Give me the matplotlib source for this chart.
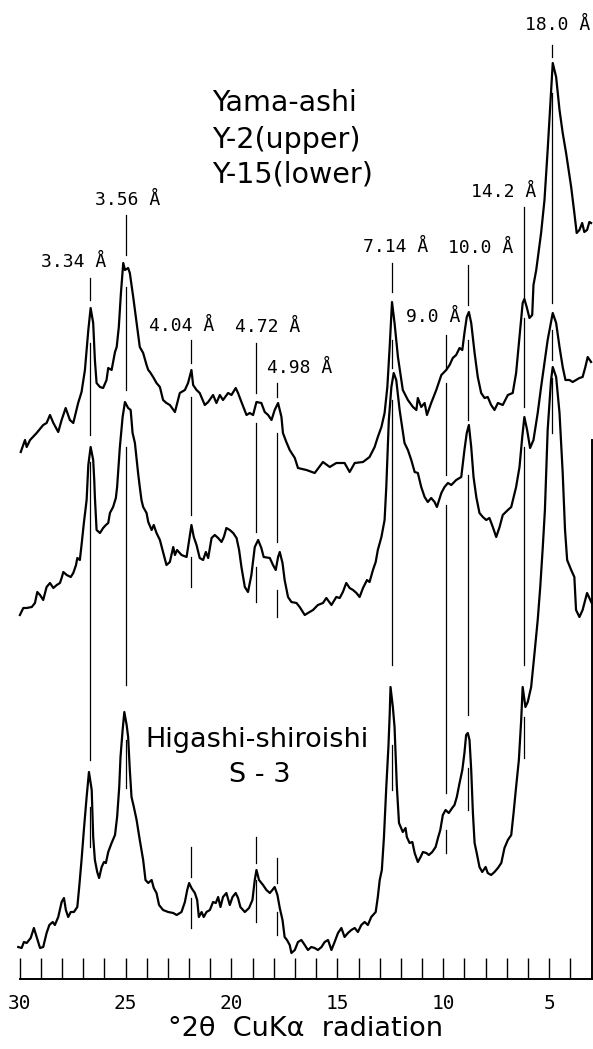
import matplotlib
matplotlib.use("Agg")
import matplotlib.pyplot as plt

# X-ray diffraction traces.
# 2theta in degrees (Cu K-alpha), intensity in arbitrary units (0 = chart baseline).

# Yama-ashi Y-2 (upper trace)
y2_2theta = [29.95, 29.75, 29.67, 29.51, 29.20, 28.89, 28.73, 28.57, 28.41, 28.18,
             28.02, 27.83, 27.63, 27.47, 27.24, 27.08, 26.92, 26.76, 26.65, 26.53,
             26.45, 26.37, 26.21, 26.06, 25.90, 25.82, 25.66, 25.50, 25.42, 25.32,
             25.22, 25.11, 25.03, 24.88, 24.80, 24.64, 24.48, 24.33, 24.17, 24.01,
             23.93, 23.85, 23.70, 23.54, 23.38, 23.23, 23.07, 22.91, 22.67, 22.44,
             22.20, 22.05, 21.89, 21.81, 21.65, 21.50, 21.26, 21.10, 20.87, 20.71,
             20.55, 20.40, 20.16, 20.00, 19.80, 19.69, 19.53, 19.29, 19.14, 18.98,
             18.82, 18.59, 18.43, 18.27, 18.11, 17.96, 17.80, 17.64, 17.57, 17.41,
             17.25, 17.01, 16.86, 16.46, 16.07, 15.68, 15.36, 15.05, 14.66, 14.42,
             14.18, 13.79, 13.48, 13.24, 13.09, 12.92, 12.77, 12.64, 12.53, 12.42,
             12.30, 12.14, 11.91, 11.67, 11.43, 11.27, 11.20, 11.04, 10.88, 10.77,
             10.57, 10.33, 10.09, 9.86, 9.70, 9.55, 9.39, 9.23, 9.10, 9.00,
             8.89, 8.79, 8.68, 8.52, 8.37, 8.21, 8.05, 7.90, 7.74, 7.58,
             7.42, 7.19, 6.95, 6.72, 6.56, 6.40, 6.25, 6.17, 6.06, 5.93,
             5.80, 5.74, 5.61, 5.38, 5.22, 5.07, 4.91, 4.83, 4.67, 4.51,
             4.36, 4.20, 3.96, 3.81, 3.70, 3.57, 3.44, 3.34, 3.21, 3.10,
             3.02]
y2_int = [527, 539, 532, 539, 546, 554, 556, 564, 556, 547,
          559, 571, 559, 556, 576, 587, 609, 649, 671, 656,
          619, 596, 592, 591, 599, 611, 609, 627, 632, 652,
          686, 716, 709, 711, 706, 682, 656, 632, 626, 614,
          609, 607, 602, 596, 592, 579, 576, 574, 567, 586,
          589, 596, 609, 594, 589, 586, 574, 577, 584, 576,
          584, 579, 586, 584, 591, 586, 577, 564, 566, 564,
          577, 576, 567, 564, 559, 569, 576, 562, 546, 537,
          529, 521, 511, 509, 506, 517, 512, 516, 516, 507,
          516, 517, 522, 532, 542, 552, 566, 592, 632, 677,
          656, 622, 589, 579, 572, 569, 581, 572, 576, 564,
          576, 589, 604, 609, 614, 621, 624, 631, 629, 646,
          662, 667, 656, 626, 602, 586, 581, 582, 574, 569,
          576, 574, 584, 586, 606, 642, 676, 680, 672, 661,
          664, 694, 709, 746, 779, 829, 886, 916, 902, 869,
          846, 826, 792, 766, 746, 749, 756, 747, 749, 757,
          756]

# Yama-ashi Y-15 (lower trace)
y15_2theta = [29.99, 29.83, 29.67, 29.43, 29.28, 29.17, 29.04, 28.89, 28.73, 28.57,
              28.41, 28.25, 28.10, 28.02, 27.94, 27.78, 27.59, 27.47, 27.34, 27.28,
              27.16, 27.08, 26.97, 26.84, 26.76, 26.65, 26.53, 26.48, 26.45, 26.37,
              26.21, 26.06, 25.93, 25.82, 25.74, 25.59, 25.46, 25.40, 25.27, 25.14,
              25.03, 24.88, 24.76, 24.67, 24.56, 24.41, 24.33, 24.25, 24.17, 24.01,
              23.93, 23.77, 23.67, 23.54, 23.38, 23.23, 23.07, 22.91, 22.75, 22.67,
              22.57, 22.36, 22.12, 22.00, 21.89, 21.78, 21.65, 21.50, 21.34, 21.21,
              21.10, 20.94, 20.79, 20.63, 20.47, 20.36, 20.24, 20.08, 19.92, 19.76,
              19.64, 19.53, 19.37, 19.22, 19.06, 18.90, 18.74, 18.59, 18.48, 18.19,
              18.04, 17.91, 17.80, 17.72, 17.59, 17.49, 17.33, 17.17, 16.93, 16.78,
              16.54, 16.39, 16.15, 15.92, 15.68, 15.52, 15.28, 15.05, 14.89, 14.74,
              14.58, 14.42, 14.26, 14.10, 13.95, 13.79, 13.60, 13.48, 13.32, 13.19,
              13.09, 12.92, 12.77, 12.69, 12.57, 12.45, 12.34, 12.22, 12.06, 11.83,
              11.67, 11.51, 11.35, 11.20, 11.04, 10.88, 10.73, 10.57, 10.41, 10.30,
              10.09, 9.94, 9.78, 9.62, 9.39, 9.15, 9.00, 8.89, 8.79, 8.68,
              8.57, 8.44, 8.29, 8.13, 7.97, 7.82, 7.66, 7.50, 7.34, 7.19,
              6.95, 6.79, 6.56, 6.40, 6.27, 6.17, 6.04, 5.90, 5.74, 5.54,
              5.38, 5.22, 5.07, 4.91, 4.83, 4.67, 4.51, 4.36, 4.23, 4.04,
              3.89, 3.73, 3.57, 3.42, 3.29, 3.18, 3.02]
y15_int = [364, 371, 371, 372, 376, 387, 384, 379, 392, 396,
           391, 394, 396, 401, 407, 404, 402, 406, 414, 421,
           419, 434, 456, 479, 514, 532, 519, 499, 482, 449,
           446, 451, 454, 456, 466, 472, 481, 492, 532, 562,
           577, 571, 569, 546, 536, 506, 492, 479, 472, 466,
           457, 449, 454, 446, 439, 427, 414, 417, 432, 424,
           429, 424, 422, 439, 454, 442, 434, 421, 419, 427,
           421, 441, 444, 441, 437, 442, 451, 449, 446, 441,
           429, 412, 392, 387, 404, 432, 439, 431, 422, 421,
           414, 409, 422, 427, 416, 399, 382, 377, 376, 372,
           364, 366, 369, 374, 376, 381, 374, 382, 381, 387,
           396, 391, 389, 386, 382, 391, 399, 397, 409, 417,
           429, 442, 459, 492, 559, 592, 606, 599, 569, 536,
           529, 519, 507, 506, 492, 482, 477, 481, 477, 472,
           486, 492, 496, 494, 499, 502, 529, 546, 554, 532,
           502, 482, 466, 462, 459, 461, 452, 442, 452, 464,
           469, 472, 492, 512, 542, 562, 549, 531, 539, 566,
           592, 616, 639, 657, 666, 656, 632, 612, 599, 599,
           597, 599, 601, 602, 612, 622, 617]

# Higashi-shiroishi S-3
s3_2theta = [30.07, 29.91, 29.80, 29.67, 29.48, 29.33, 29.20, 29.04, 28.89, 28.73,
             28.60, 28.44, 28.34, 28.18, 28.02, 27.91, 27.82, 27.71, 27.59, 27.44,
             27.28, 27.19, 27.08, 26.97, 26.84, 26.73, 26.60, 26.53, 26.45, 26.34,
             26.25, 26.13, 26.02, 25.93, 25.82, 25.66, 25.50, 25.40, 25.30, 25.24,
             25.14, 25.06, 24.95, 24.88, 24.80, 24.72, 24.61, 24.48, 24.33, 24.17,
             24.06, 23.93, 23.77, 23.67, 23.54, 23.42, 23.23, 22.99, 22.75, 22.59,
             22.36, 22.20, 22.09, 22.00, 21.89, 21.73, 21.62, 21.54, 21.41, 21.31,
             21.18, 21.02, 20.87, 20.74, 20.63, 20.52, 20.40, 20.24, 20.08, 19.95,
             19.80, 19.69, 19.58, 19.37, 19.17, 19.01, 18.90, 18.82, 18.70, 18.51,
             18.35, 18.19, 18.07, 17.96, 17.83, 17.72, 17.59, 17.49, 17.38, 17.25,
             17.17, 17.01, 16.86, 16.70, 16.54, 16.39, 16.23, 16.07, 15.92, 15.75,
             15.60, 15.44, 15.28, 15.13, 14.97, 14.81, 14.66, 14.50, 14.34, 14.18,
             14.03, 13.87, 13.71, 13.56, 13.40, 13.19, 13.09, 13.00, 12.90, 12.80,
             12.69, 12.59, 12.53, 12.49, 12.38, 12.30, 12.19, 12.09, 11.91, 11.78,
             11.72, 11.59, 11.46, 11.35, 11.20, 11.07, 10.96, 10.80, 10.68, 10.52,
             10.36, 10.25, 10.14, 10.02, 9.89, 9.74, 9.58, 9.47, 9.36, 9.23,
             9.10, 9.00, 8.92, 8.84, 8.76, 8.68, 8.60, 8.52, 8.42, 8.29,
             8.16, 8.00, 7.90, 7.74, 7.58, 7.42, 7.26, 7.11, 6.95, 6.79,
             6.68, 6.56, 6.43, 6.32, 6.25, 6.12, 6.01, 5.85, 5.69, 5.54,
             5.42, 5.30, 5.20, 5.07, 4.91, 4.83, 4.67, 4.51, 4.36, 4.25,
             4.15, 3.96, 3.81, 3.73, 3.57, 3.42, 3.21, 2.99]
s3_int = [32, 31, 37, 36, 41, 51, 42, 31, 32, 46,
          54, 57, 54, 62, 77, 81, 69, 62, 67, 67,
          72, 92, 119, 149, 182, 207, 189, 142, 119, 107,
          101, 112, 117, 116, 127, 136, 144, 162, 192, 222,
          249, 267, 254, 242, 209, 182, 172, 159, 139, 119,
          99, 96, 99, 91, 86, 74, 69, 67, 66, 64,
          67, 77, 89, 96, 91, 86, 79, 62, 67, 62,
          67, 69, 77, 76, 82, 72, 82, 86, 74, 82,
          86, 81, 72, 67, 71, 79, 99, 109, 99, 94,
          89, 86, 89, 92, 84, 71, 59, 42, 39, 34,
          26, 29, 37, 39, 34, 29, 32, 31, 29, 32,
          37, 39, 29, 37, 46, 51, 42, 46, 49, 51,
          47, 54, 57, 54, 62, 67, 82, 99, 109, 142,
          192, 232, 264, 292, 272, 252, 192, 156, 147, 151,
          142, 136, 137, 126, 117, 122, 127, 126, 124, 127,
          132, 141, 149, 164, 169, 166, 171, 174, 182, 196,
          209, 226, 244, 246, 239, 209, 166, 136, 126, 112,
          107, 112, 106, 104, 107, 111, 116, 131, 139, 144,
          166, 192, 219, 259, 292, 272, 277, 292, 326, 359,
          392, 432, 469, 549, 599, 612, 602, 566, 506, 449,
          419, 409, 402, 369, 362, 369, 386, 376]

# d-spacing reference lines: label, 2theta, and drawn (top, bottom) pieces in intensity
d_labels = ["3.34 Å", "3.56 Å", "4.04 Å", "4.72 Å", "4.98 Å",
            "7.14 Å", "9.0 Å", "10.0 Å", "14.2 Å", "18.0 Å"]
d_2theta = [26.67, 25.00, 21.92, 18.82, 17.83, 12.42, 9.85, 8.81, 6.21, 4.87]
d_segments = [
    [(701, 679), (636, 544), (517, 219), (172, 132)],
    [(764, 724), (692, 589), (532, 294), (239, 191)],
    [(639, 616), (582, 464), (422, 392), (132, 102), (81, 51)],
    [(636, 586), (556, 447), (412, 377), (142, 116), (99, 57)],
    [(596, 582), (546, 437), (389, 362), (121, 96), (67, 44)],
    [(716, 687), (639, 611), (579, 314), (234, 189)],
    [(644, 611), (596, 504), (474, 186), (149, 126)],
    [(714, 674), (639, 559), (504, 264), (211, 169)],
    [(772, 681), (661, 572), (532, 314), (262, 221)],
    [(934, 922), (886, 676), (649, 619), (601, 546)],
]

major_ticks = [30, 25, 20, 15, 10, 5]
minor_ticks = [d for d in range(4, 30) if d % 5]

# label anchor points (2theta, intensity)
d_label_pos = [(27.44, 717), (24.89, 779), (22.34, 653), (18.29, 652), (16.78, 611),
               (12.25, 732), (10.46, 662), (8.24, 731), (7.16, 787), (4.61, 954)]

W, H = 593, 1049
fig = plt.figure(figsize=(W / 100, H / 100), dpi=100)
ax = fig.add_axes([19.7 / W, 70 / H, (591.5 - 19.7) / W, 979 / H])
ax.set_xlim(30, 3)
ax.set_ylim(0, 979)

for tt, yy in ((y2_2theta, y2_int), (y15_2theta, y15_int), (s3_2theta, s3_int)):
    ax.plot(tt, yy, color="black", lw=1.6, clip_on=False, solid_joinstyle="round")

for x, segs in zip(d_2theta, d_segments):
    for top, bot in segs:
        ax.plot([x, x], [top, bot], color="black", lw=0.9, clip_on=False)

mono = "DejaVu Sans Mono"
for lab, (x, y) in zip(d_labels, d_label_pos):
    ax.text(x, y, lab, ha="center", va="center", family=mono, fontsize=13)

ax.text(20.93, 876, "Yama-ashi", ha="left", va="center", fontsize=20.5)
ax.text(20.93, 839, "Y-2(upper)", ha="left", va="center", fontsize=20.5)
ax.text(20.93, 804, "Y-15(lower)", ha="left", va="center", fontsize=20.5)
ax.text(18.81, 239, "Higashi-shiroishi", ha="center", va="center", fontsize=19.5)
ax.text(18.67, 204, "S - 3", ha="center", va="center", fontsize=19.5)

ax.set_xticks(major_ticks)
ax.set_xticks(minor_ticks, minor=True)
ax.set_xticklabels([str(t) for t in major_ticks], family=mono, fontsize=14)
ax.tick_params(axis="x", which="both", direction="in", length=15, width=1.0, pad=11)
ax.set_yticks([])
for s in ("left", "top"):
    ax.spines[s].set_visible(False)
ax.spines["bottom"].set_linewidth(1.4)
ax.spines["right"].set_linewidth(1.4)
ax.spines["right"].set_bounds(0, 539)
ax.set_xlabel("°2θ  CuKα  radiation", fontsize=19.5, labelpad=2)

fig.savefig("out.png", dpi=100)
